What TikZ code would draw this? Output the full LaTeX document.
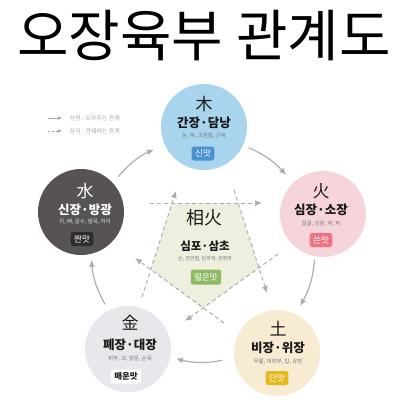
\documentclass[tikz,border=0pt]{standalone}
\usepackage{fontspec}
\setmainfont{Noto Sans CJK KR}
\usetikzlibrary{arrows.meta,calc}
\definecolor{woodc}{HTML}{A8D4EE}
\definecolor{woodb}{HTML}{4A92CF}
\definecolor{firec}{HTML}{F6D5DA}
\definecolor{fireb}{HTML}{EE7383}
\definecolor{earthc}{HTML}{F7EBD2}
\definecolor{earthb}{HTML}{E3BA1C}
\definecolor{metalc}{HTML}{EAE7EC}
\definecolor{waterc}{HTML}{575256}
\definecolor{waterb}{HTML}{2F2C2F}
\definecolor{pentc}{HTML}{EEEFDF}
\definecolor{pentb}{HTML}{8DBA63}
\definecolor{arrowgray}{HTML}{ADADAD}
\definecolor{subgray}{HTML}{777777}
\definecolor{leggray}{HTML}{A8A8A8}
\definecolor{ink}{HTML}{1A1A1A}
\begin{document}
\begin{tikzpicture}[x=1pt,y=-1pt,
  organ/.style={circle, minimum size=86pt, inner sep=0pt},
  hanja/.style={font=\fontsize{17}{17}\selectfont, text=ink},
  oname/.style={font=\bfseries\fontsize{12.5}{12.5}\selectfont, text=ink},
  osub/.style={font=\fontsize{5.5}{5.5}\selectfont, text=subgray},
  badge/.style={rounded corners=2.5pt, inner xsep=3.5pt, inner ysep=0pt, minimum height=14pt, font=\fontsize{8.5}{8.5}\selectfont, text=white},
  flow/.style={draw=arrowgray, line width=1.2pt, -{Latex[length=7pt,width=6pt]}},
  ctrl/.style={draw=arrowgray, line width=1pt, dash pattern=on 4pt off 3pt, -{Latex[length=7pt,width=6pt]}},
  legtext/.style={font=\fontsize{6}{6}\selectfont, text=leggray, anchor=west}
]
\useasboundingbox (0,0) rectangle (404,400);
\fill[white] (0,0) rectangle (404,400);

% title
\node[font=\fontsize{56}{56}\selectfont, text=black] (title) at (204,36) {오장육부 관계도};

% control lines (pentagram)
\coordinate (s1) at (150,203); \coordinate (e1) at (262,203);
\coordinate (s2) at (278,254); \coordinate (e2) at (185,321);
\coordinate (s3) at (142,297); \coordinate (e3) at (176,191);
\coordinate (s4) at (234,190); \coordinate (e4) at (267,293);
\coordinate (s5) at (224,323); \coordinate (e5) at (135,258);

\coordinate (p1) at (intersection of s1--e1 and s3--e3);
\coordinate (p2) at (intersection of s1--e1 and s4--e4);
\coordinate (p3) at (intersection of s4--e4 and s2--e2);
\coordinate (p4) at (intersection of s2--e2 and s5--e5);
\coordinate (p5) at (intersection of s5--e5 and s3--e3);
\fill[pentc] (p1) -- (p2) -- (p3) -- (p4) -- (p5) -- cycle;

% organ circles
\node[organ, fill=woodc]  (wood)  at (204,127) {};
\node[organ, fill=firec]  (fire)  at (323,214) {};
\node[organ, fill=earthc] (earth) at (277,353) {};
\node[organ, fill=metalc] (metal) at (128,349) {};
\node[organ, fill=waterc] (water) at (81,212) {};

% wood
\node[hanja] (woodh) at (204,104) {木};
\node[oname] (woodn) at (204,123) {간장·담낭};
\node[osub]  (woods) at (204,135.5) {눈, 목, 고관절, 근육};
\node[badge, fill=woodb] (woodt) at (203,153.5) {신맛};
% fire
\node[hanja] (fireh) at (321,191) {火};
\node[oname] (firen) at (321,210) {심장·소장};
\node[osub]  (fires) at (321,223.5) {얼굴, 상완, 혀, 피};
\node[badge, fill=fireb] (firet) at (321,240) {쓴맛};
% earth
\node[hanja] (earthh) at (278,329) {土};
\node[oname] (earthn) at (278,347.5) {비장·위장};
\node[osub]  (earths) at (278,361.5) {무릎, 대퇴부, 입, 유방};
\node[badge, fill=earthb] (eartht) at (277,378) {단맛};
% metal
\node[hanja] (metalh) at (130,323) {金};
\node[oname] (metaln) at (130,345) {폐장·대장};
\node[osub]  (metals) at (130,359) {피부, 코, 항문, 손목};
\node[badge, fill=white, text=ink, font=\bfseries\fontsize{8.5}{8.5}\selectfont] (metalt) at (126,376.5) {매운맛};
% water
\node[hanja, text=white] (waterh) at (85,191) {水};
\node[oname, text=white] (watern) at (85,210) {신장·방광};
\node[osub, text=white!85!black] (waters) at (85,222) {귀, 뼈, 골수, 발목, 허리};
\node[badge, fill=waterb] (watert) at (82,239) {짠맛};
% sanghwa
\node[font=\fontsize{18}{18}\selectfont, text=ink] (sangh) at (204,218) {相火};
\node[oname, font=\bfseries\fontsize{11.5}{11.5}\selectfont] (sangn) at (205,246.5) {심포·삼초};
\node[osub, font=\fontsize{5}{5}\selectfont] (sangs) at (205,259) {손, 견관절, 임파액, 생명력};
\node[badge, fill=pentb, minimum height=15pt] (sangt) at (206,277) {떫은맛};

% control arrows
\draw[ctrl] (s1) -- (e1);
\draw[ctrl] (s2) -- (e2);
\draw[ctrl] (s3) -- (e3);
\draw[ctrl] (s4) -- (e4);
\draw[ctrl] (s5) -- (e5);

% generating arrows
\coordinate (ctr) at (203,250);
\coordinate (a1s) at ($(ctr)+(-139:112)$); \coordinate (a1e) at ($(ctr)+(-116:112)$);
\coordinate (a2s) at ($(ctr)+(-66:112)$);  \coordinate (a2e) at ($(ctr)+(-42:112)$);
\coordinate (a3s) at ($(ctr)+(5:112)$);    \coordinate (a3e) at ($(ctr)+(30:112)$);
\coordinate (a4s) at ($(ctr)+(80:112)$);   \coordinate (a4e) at ($(ctr)+(104:112)$);
\coordinate (a5s) at ($(ctr)+(151:112)$);  \coordinate (a5e) at ($(ctr)+(175:112)$);
\draw[flow] (a1s) to[bend left=12] (a1e);
\draw[flow] (a2s) to[bend left=12] (a2e);
\draw[flow] (a3s) to[bend left=12] (a3e);
\draw[flow] (a4s) to[bend left=12] (a4e);
\draw[flow] (a5s) to[bend left=12] (a5e);

% legend
\coordinate (l1s) at (48,118); \coordinate (l1e) at (62,118);
\coordinate (l2s) at (48,131); \coordinate (l2e) at (62,131);
\draw[draw=leggray, line width=0.8pt, -{Latex[length=4pt,width=4pt]}] (l1s) -- (l1e);
\draw[draw=leggray, line width=0.8pt, dash pattern=on 2pt off 2pt, -{Latex[length=4pt,width=4pt]}] (l2s) -- (l2e);
\node[legtext] (leg1) at (66,118) {상생 : 도와주는 관계};
\node[legtext] (leg2) at (66,131) {상극 : 견제하는 관계};
\end{tikzpicture}
\end{document}
